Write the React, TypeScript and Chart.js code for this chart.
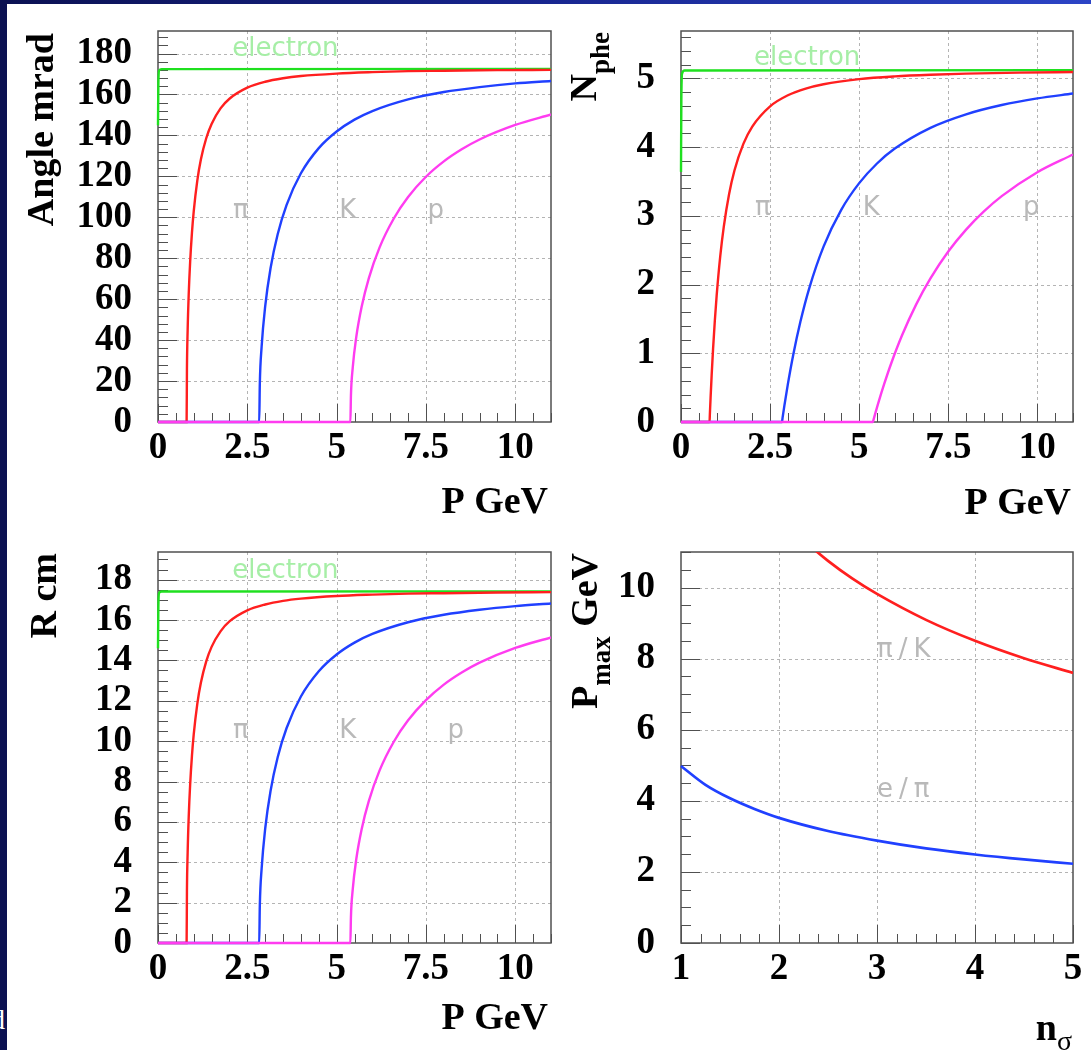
import React, { useEffect, useRef } from 'react';
import { Chart, registerables } from 'chart.js';

Chart.register(...registerables);

// ---------------- data ----------------
// momentum samples (GeV)
const P_ELECTRON = [0, 0.01, 0.03, 0.1, 11];
const P_PION = [0, 0.801, 0.81, 0.83, 0.86, 0.9, 0.95, 1.0, 1.1, 1.2, 1.35, 1.5, 1.75, 2.0, 2.5, 3.0, 3.5, 4.0, 5.0, 6.0, 7.0, 8.0, 9.5, 11];
const P_KAON = [0, 2.833, 2.85, 2.9, 3.0, 3.15, 3.35, 3.6, 4.0, 4.5, 5.0, 5.5, 6.0, 7.0, 8.0, 9.0, 10, 11];
const P_PROTON = [0, 5.385, 5.4, 5.45, 5.55, 5.7, 5.9, 6.2, 6.6, 7.0, 7.5, 8.0, 8.5, 9.0, 10, 11];

// Cherenkov angle (mrad)
const ANGLE_ELECTRON = [145, 164.8, 171.7, 172.4, 172.5];
const ANGLE_PION = [0, 0, 25.5, 45.0, 62.5, 78.3, 92.4, 102.9, 117.9, 128.2, 138.6, 145.6, 153.2, 157.9, 163.3, 166.2, 167.9, 169.0, 170.2, 170.9, 171.4, 171.6, 171.9, 172.0];
const ANGLE_KAON = [0, 0, 18.7, 36.7, 56.5, 75.1, 91.7, 106.1, 121.5, 133.8, 141.9, 147.7, 151.9, 157.6, 161.2, 163.6, 165.4, 166.6];
const ANGLE_PROTON = [0, 0, 12.8, 26.4, 41.6, 56.3, 70.2, 85.2, 99.4, 109.9, 119.8, 127.3, 133.2, 138.0, 145.1, 150.2];

// number of photo-electrons
const NPHE_ELECTRON = [3.64, 4.68, 5.07, 5.115, 5.12];
const NPHE_PION = [0, 0, 0.113, 0.351, 0.678, 1.064, 1.48, 1.835, 2.405, 2.839, 3.318, 3.66, 4.047, 4.299, 4.594, 4.755, 4.852, 4.915, 4.989, 5.029, 5.053, 5.069, 5.084, 5.093];
const NPHE_KAON = [0, 0, 0.061, 0.234, 0.554, 0.979, 1.458, 1.949, 2.552, 3.091, 3.476, 3.762, 3.979, 4.281, 4.478, 4.613, 4.709, 4.78];
const NPHE_PROTON = [0, 0, 0.028, 0.121, 0.3, 0.55, 0.855, 1.258, 1.712, 2.09, 2.481, 2.8, 3.065, 3.287, 3.635, 3.893];

// ring radius (cm)
const R_ELECTRON = [14.6, 16.63, 17.34, 17.41, 17.42];
const R_PION = [0, 0, 2.55, 4.5, 6.26, 7.85, 9.27, 10.33, 11.85, 12.89, 13.95, 14.67, 15.44, 15.93, 16.48, 16.77, 16.95, 17.06, 17.19, 17.26, 17.31, 17.33, 17.36, 17.38];
const R_KAON = [0, 0, 1.87, 3.67, 5.66, 7.53, 9.2, 10.65, 12.21, 13.46, 14.29, 14.88, 15.31, 15.89, 16.26, 16.51, 16.69, 16.82];
const R_PROTON = [0, 0, 1.28, 2.64, 4.16, 5.64, 7.03, 8.54, 9.97, 11.03, 12.03, 12.8, 13.4, 13.89, 14.62, 15.14];

// maximum momentum vs number of sigma
const NSIGMA_EPI = [1, 1.25, 1.5, 1.75, 2, 2.5, 3, 3.5, 4, 4.5, 5];
const PMAX_EPI = [4.98, 4.45, 4.07, 3.77, 3.52, 3.15, 2.88, 2.66, 2.49, 2.35, 2.23];
const NSIGMA_PIK = [2.25, 2.5, 2.75, 3, 3.5, 4, 4.5, 5];
const PMAX_PIK = [11.33, 10.75, 10.25, 9.82, 9.09, 8.5, 8.01, 7.6];

// tick labels
const X_TICKS_P = [0, 2.5, 5, 7.5, 10];
const X_TICKS_NSIGMA = [1, 2, 3, 4, 5];
const Y_TICKS_ANGLE = [0, 20, 40, 60, 80, 100, 120, 140, 160, 180];
const Y_TICKS_NPHE = [0, 1, 2, 3, 4, 5];
const Y_TICKS_R = [0, 2, 4, 6, 8, 10, 12, 14, 16, 18];
const Y_TICKS_PMAX = [0, 2, 4, 6, 8, 10];

// ---------------- styling ----------------
const RED = '#ff1f1f';
const BLUE = '#2040ff';
const MAGENTA = '#ff3cf0';
const GREEN = '#1fe01f';
const LABEL_GRAY = '#b9b9b9';
const LABEL_GREEN = '#a6eea6';

type Series = { xs: number[]; ys: number[]; color: string; width?: number };
type Label = { x: number; y: number; text: string; color: string; spacing?: number };
type TitlePart = { text: string; sub?: boolean; font?: string };

interface PanelSpec {
  left: number; top: number; width: number; height: number;
  area: { l: number; t: number; r: number; b: number };
  xMin: number; xMax: number; yMin: number; yMax: number;
  xTicks: number[]; yTicks: number[];
  xMinor: number; yMinor: number;
  series: Series[]; // first entry is drawn on top
  labels: Label[];
  yTitle: TitlePart[]; yTitleBase: number; yTitleEnd: number;
  xTitle: TitlePart[]; xTitleRight: number; xTitleBase: number;
}

const particleSeries = (e: number[], pi: number[], k: number[], p: number[]): Series[] => [
  { xs: P_PROTON, ys: p, color: MAGENTA },
  { xs: P_KAON, ys: k, color: BLUE },
  { xs: P_PION, ys: pi, color: RED },
  { xs: P_ELECTRON, ys: e, color: GREEN },
];

const PANELS: PanelSpec[] = [
  {
    left: 0, top: 0, width: 560, height: 525,
    area: { l: 158, t: 31, r: 551, b: 422 },
    xMin: 0, xMax: 11, yMin: 0, yMax: 191,
    xTicks: X_TICKS_P, yTicks: Y_TICKS_ANGLE, xMinor: 0.5, yMinor: 4,
    series: particleSeries(ANGLE_ELECTRON, ANGLE_PION, ANGLE_KAON, ANGLE_PROTON),
    labels: [
      { x: 2.08, y: 179, text: 'electron', color: LABEL_GREEN },
      { x: 2.1, y: 99.5, text: 'π', color: LABEL_GRAY },
      { x: 5.07, y: 99.5, text: 'K', color: LABEL_GRAY },
      { x: 7.54, y: 99.5, text: 'p', color: LABEL_GRAY },
    ],
    yTitle: [{ text: 'Angle mrad' }], yTitleBase: -105, yTitleEnd: 2,
    xTitle: [{ text: 'P GeV' }], xTitleRight: -3, xTitleBase: 91,
  },
  {
    left: 545, top: 0, width: 546, height: 525,
    area: { l: 136, t: 31, r: 528, b: 422 },
    xMin: 0, xMax: 11, yMin: 0, yMax: 5.69,
    xTicks: X_TICKS_P, yTicks: Y_TICKS_NPHE, xMinor: 0.5, yMinor: 0.2,
    series: particleSeries(NPHE_ELECTRON, NPHE_PION, NPHE_KAON, NPHE_PROTON),
    labels: [
      { x: 2.05, y: 5.2, text: 'electron', color: LABEL_GREEN },
      { x: 2.08, y: 3.01, text: 'π', color: LABEL_GRAY },
      { x: 5.1, y: 3.01, text: 'K', color: LABEL_GRAY },
      { x: 9.6, y: 3.01, text: 'p', color: LABEL_GRAY },
    ],
    yTitle: [{ text: 'N' }, { text: 'phe', sub: true }], yTitleBase: -85, yTitleEnd: 1,
    xTitle: [{ text: 'P GeV' }], xTitleRight: -2, xTitleBase: 92,
  },
  {
    left: 0, top: 525, width: 560, height: 525,
    area: { l: 158, t: 27, r: 551, b: 418 },
    xMin: 0, xMax: 11, yMin: 0, yMax: 19.37,
    xTicks: X_TICKS_P, yTicks: Y_TICKS_R, xMinor: 0.5, yMinor: 0.5,
    series: particleSeries(R_ELECTRON, R_PION, R_KAON, R_PROTON),
    labels: [
      { x: 2.08, y: 18.1, text: 'electron', color: LABEL_GREEN },
      { x: 2.1, y: 10.15, text: 'π', color: LABEL_GRAY },
      { x: 5.07, y: 10.15, text: 'K', color: LABEL_GRAY },
      { x: 8.1, y: 10.15, text: 'p', color: LABEL_GRAY },
    ],
    yTitle: [{ text: 'R cm' }], yTitleBase: -102, yTitleEnd: 1,
    xTitle: [{ text: 'P GeV' }], xTitleRight: -3, xTitleBase: 86,
  },
  {
    left: 545, top: 525, width: 546, height: 525,
    area: { l: 136, t: 27, r: 528, b: 418 },
    xMin: 1, xMax: 5, yMin: 0, yMax: 11,
    xTicks: X_TICKS_NSIGMA, yTicks: Y_TICKS_PMAX, xMinor: 0.2, yMinor: 0.5,
    series: [
      { xs: NSIGMA_PIK, ys: PMAX_PIK, color: RED, width: 2.7 },
      { xs: NSIGMA_EPI, ys: PMAX_EPI, color: BLUE, width: 2.7 },
    ],
    labels: [
      { x: 3.0, y: 8.05, text: 'π/K', color: LABEL_GRAY, spacing: 6 },
      { x: 3.0, y: 4.1, text: 'e/π', color: LABEL_GRAY, spacing: 6 },
    ],
    yTitle: [{ text: 'P' }, { text: 'max', sub: true }, { text: ' GeV' }], yTitleBase: -84, yTitleEnd: 1,
    xTitle: [{ text: 'n' }, { text: 'σ', sub: true, font: '28px "Liberation Serif"' }], xTitleRight: -1, xTitleBase: 97,
  },
];

const TITLE_FONT = 'bold 38px "Liberation Serif"';
const SUB_FONT = 'bold 27px "Liberation Serif"';
const LABEL_FONT = '26px "DejaVu Sans"';
const FRAME_COLOR = '#505050';
const GRID_COLOR = '#b4b4b4';

function partFont(p: TitlePart) {
  return p.font ? p.font : p.sub ? SUB_FONT : TITLE_FONT;
}

function drawParts(ctx: CanvasRenderingContext2D, parts: TitlePart[], endX: number, baseY: number, subShift: number) {
  let total = 0;
  for (const p of parts) {
    ctx.font = partFont(p);
    total += ctx.measureText(p.text).width;
  }
  let cx = endX - total;
  for (const p of parts) {
    ctx.font = partFont(p);
    ctx.fillText(p.text, cx, baseY + (p.sub ? subShift : 0));
    cx += ctx.measureText(p.text).width;
  }
}

function makePlugin(spec: PanelSpec) {
  return {
    id: 'rootStyle',
    beforeDatasetsDraw(chart: any) {
      const ctx: CanvasRenderingContext2D = chart.ctx;
      const a = chart.chartArea;
      const xs = chart.scales.x;
      const ys = chart.scales.y;
      ctx.save();
      // dotted grid at major ticks
      ctx.strokeStyle = GRID_COLOR;
      ctx.lineWidth = 1;
      ctx.setLineDash([3, 3]);
      for (const v of spec.xTicks) {
        const px = Math.round(xs.getPixelForValue(v)) + 0.5;
        if (px <= a.left + 2 || px >= a.right - 2) continue;
        ctx.beginPath(); ctx.moveTo(px, a.top); ctx.lineTo(px, a.bottom); ctx.stroke();
      }
      for (const v of spec.yTicks) {
        const py = Math.round(ys.getPixelForValue(v)) + 0.5;
        if (py <= a.top + 2 || py >= a.bottom - 2) continue;
        ctx.beginPath(); ctx.moveTo(a.left, py); ctx.lineTo(a.right, py); ctx.stroke();
      }
      ctx.setLineDash([]);
      // text labels inside the frame
      ctx.font = LABEL_FONT;
      ctx.textAlign = 'left';
      ctx.textBaseline = 'alphabetic';
      for (const lb of spec.labels) {
        (ctx as any).letterSpacing = (lb.spacing || 0) + 'px';
        ctx.fillStyle = lb.color;
        ctx.fillText(lb.text, xs.getPixelForValue(lb.x), ys.getPixelForValue(lb.y));
      }
      (ctx as any).letterSpacing = '0px';
      // frame
      ctx.strokeStyle = FRAME_COLOR;
      ctx.lineWidth = 1.5;
      ctx.strokeRect(a.left, a.top, a.right - a.left, a.bottom - a.top);
      // inner ticks
      ctx.lineWidth = 1;
      const isMajor = (list: number[], v: number) => list.some((t) => Math.abs(t - v) < 1e-6);
      const nx = Math.round((spec.xMax - spec.xMin) / spec.xMinor);
      for (let i = 0; i <= nx; i++) {
        const v = spec.xMin + i * spec.xMinor;
        const px = Math.round(xs.getPixelForValue(v)) + 0.5;
        const len = isMajor(spec.xTicks, v) ? 18 : 9;
        ctx.beginPath(); ctx.moveTo(px, a.bottom); ctx.lineTo(px, a.bottom - len); ctx.stroke();
      }
      const ny = Math.floor((spec.yMax - spec.yMin) / spec.yMinor + 1e-6);
      for (let i = 0; i <= ny; i++) {
        const v = spec.yMin + i * spec.yMinor;
        const py = Math.round(ys.getPixelForValue(v)) + 0.5;
        const len = isMajor(spec.yTicks, v) ? 19 : 10;
        ctx.beginPath(); ctx.moveTo(a.left, py); ctx.lineTo(a.left + len, py); ctx.stroke();
      }
      ctx.restore();
    },
    afterDraw(chart: any) {
      const ctx: CanvasRenderingContext2D = chart.ctx;
      const a = chart.chartArea;
      ctx.save();
      ctx.fillStyle = '#000000';
      ctx.textAlign = 'left';
      ctx.textBaseline = 'alphabetic';
      // x title, right aligned at the frame's right end
      drawParts(ctx, spec.xTitle, a.right + spec.xTitleRight, a.bottom + spec.xTitleBase, 10);
      // y title, rotated, ending at the frame's top
      ctx.translate(a.left + spec.yTitleBase, a.top + spec.yTitleEnd);
      ctx.rotate(-Math.PI / 2);
      drawParts(ctx, spec.yTitle, 0, 0, 13);
      ctx.restore();
    },
  };
}

const TICK_FONT = { family: 'Liberation Serif', size: 37, weight: 'bold' as const };

function Panel({ spec }: { spec: PanelSpec }) {
  const ref = useRef<HTMLCanvasElement | null>(null);
  useEffect(() => {
    if (!ref.current) return;
    const chart = new Chart(ref.current, {
      type: 'line',
      data: {
        datasets: spec.series.map((s) => ({
          data: s.xs.map((x, i) => ({ x, y: s.ys[i] })),
          borderColor: s.color,
          backgroundColor: s.color,
          borderWidth: s.width || 2.4,
          pointRadius: 0,
          fill: false,
          cubicInterpolationMode: 'monotone' as const,
          clip: { left: 2, top: 0, right: 0, bottom: 2 },
        })),
      },
      options: {
        animation: false,
        responsive: false,
        maintainAspectRatio: false,
        events: [],
        layout: { padding: { left: 0, top: spec.area.t, right: spec.width - spec.area.r, bottom: 0 } },
        plugins: { legend: { display: false }, tooltip: { enabled: false } },
        scales: {
          x: {
            type: 'linear',
            min: spec.xMin,
            max: spec.xMax,
            afterBuildTicks: (s: any) => { s.ticks = spec.xTicks.map((v) => ({ value: v })); },
            afterFit: (s: any) => {
              s.height = spec.height - spec.area.b;
              s.paddingLeft = 0; s.paddingRight = 0;
            },
            ticks: {
              autoSkip: false, maxRotation: 0, minRotation: 0, padding: 4, color: '#000',
              font: TICK_FONT, callback: (v: any) => String(v),
            },
            grid: { display: false, drawTicks: false },
            border: { display: false },
          },
          y: {
            type: 'linear',
            min: spec.yMin,
            max: spec.yMax,
            afterBuildTicks: (s: any) => { s.ticks = spec.yTicks.map((v) => ({ value: v })); },
            afterFit: (s: any) => {
              s.width = spec.area.l;
              s.paddingTop = 0; s.paddingBottom = 0;
            },
            ticks: {
              autoSkip: false, padding: 26, color: '#000',
              font: TICK_FONT, callback: (v: any) => String(v),
            },
            grid: { display: false, drawTicks: false },
            border: { display: false },
          },
        },
      },
      plugins: [makePlugin(spec)],
    } as any);
    return () => chart.destroy();
  }, [spec]);
  return (
    <canvas
      ref={ref}
      width={spec.width}
      height={spec.height}
      style={{ position: 'absolute', left: spec.left, top: spec.top, width: spec.width, height: spec.height }}
    />
  );
}

export default function App() {
  return (
    <div style={{ position: 'fixed', left: 0, top: 0, width: 1091, height: 1050, background: '#ffffff', overflow: 'hidden' }}>
      <div style={{ position: 'absolute', left: 0, top: 0, width: 1091, height: 4, background: 'linear-gradient(90deg, #0b1152 0%, #16238a 45%, #2c44c6 100%)' }} />
      <div style={{ position: 'absolute', left: 0, top: 0, width: 7, height: 1050, background: '#0b1152' }} />
      <span style={{ position: 'absolute', left: -9, top: 1004, fontFamily: '"Liberation Serif"', fontSize: 28, color: '#ffffff', lineHeight: '32px' }}>d</span>
      {PANELS.map((p, i) => (
        <Panel key={i} spec={p} />
      ))}
    </div>
  );
}
